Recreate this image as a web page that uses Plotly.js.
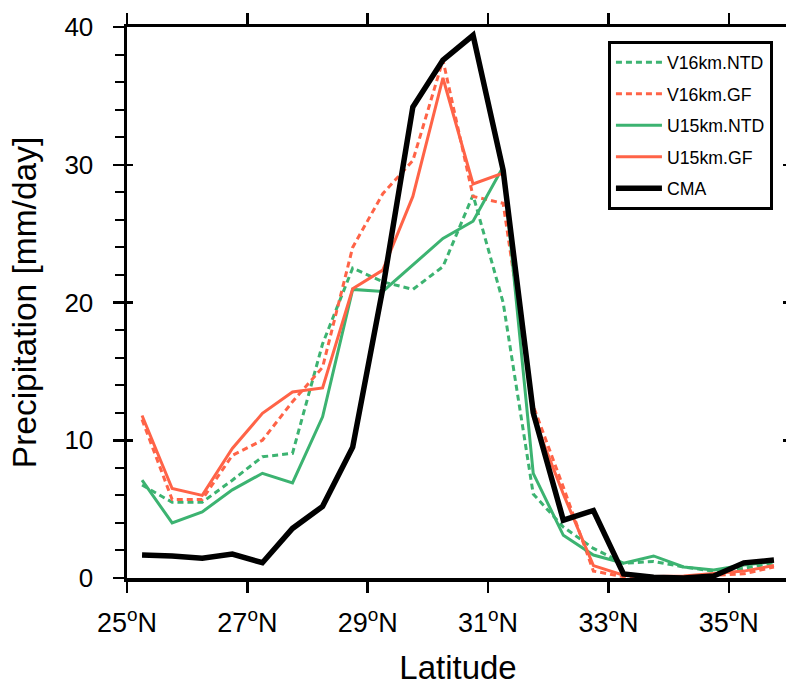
<!DOCTYPE html>
<html>
<head>
<meta charset="utf-8">
<script src="https://cdn.plot.ly/plotly-3.0.1.min.js"></script>
<style>
html, body { margin:0; padding:0; overflow:hidden; background:#fff; }
#chart { width:800px; height:686px; }
</style>
</head>
<body>
<div id="chart"></div>
<script>
// Latitude centres (degrees N)
const lat = [25.25, 25.75, 26.25, 26.75, 27.25, 27.75, 28.25, 28.75, 29.25, 29.75, 30.25,
             30.75, 31.25, 31.75, 32.25, 32.75, 33.25, 33.75, 34.25, 34.75, 35.25, 35.75];

// Precipitation series (mm/day)
const v16NTD = [6.75, 5.5, 5.5, 7.1, 8.8, 9.05, 17.0, 22.5, 21.5, 20.95, 22.6,
                27.8, 20.0, 6.1, 3.7, 2.15, 1.07, 1.2, 0.8, 0.5, 0.7, 1.1];
const v16GF  = [11.5, 5.7, 5.7, 8.9, 10.0, 12.8, 15.3, 24.0, 27.9, 30.3, 37.6,
                27.7, 27.2, 12.5, 6.6, 0.5, 0.1, 0.05, 0.1, 0.2, 0.3, 0.8];
const u15NTD = [7.1, 4.0, 4.8, 6.4, 7.6, 6.9, 11.7, 20.95, 20.8, 22.7, 24.65,
                25.9, 29.85, 7.6, 3.1, 1.67, 1.07, 1.6, 0.8, 0.58, 0.94, 1.2];
const u15GF  = [11.8, 6.5, 6.0, 9.4, 11.95, 13.5, 13.8, 21.0, 22.35, 27.7, 36.3,
                28.6, 29.4, 11.7, 6.1, 0.9, 0.2, 0.1, 0.15, 0.3, 0.5, 0.9];
const cma    = [1.67, 1.6, 1.43, 1.74, 1.11, 3.6, 5.2, 9.5, 21.0, 34.2, 37.6,
                39.4, 29.6, 12.0, 4.2, 4.9, 0.3, 0.05, 0.0, 0.15, 1.1, 1.3];

const seriesNames = ["V16km.NTD", "V16km.GF", "U15km.NTD", "U15km.GF", "CMA"];

// Axis ticks
const xTickVals = [25, 27, 29, 31, 33, 35];
const xTickText = ["25<sup>o</sup>N", "27<sup>o</sup>N", "29<sup>o</sup>N", "31<sup>o</sup>N", "33<sup>o</sup>N", "35<sup>o</sup>N"];

const GREEN = "#3CB371", RED = "#FF6347";
const FONT = "Liberation Sans, Arial, Helvetica, sans-serif";

const traces = [
  {x: lat, y: v16NTD, name: seriesNames[0], mode: "lines", legendgroup: "a",
   line: {color: GREEN, width: 3, dash: "6px,4px"}},
  {x: lat, y: v16GF, name: seriesNames[1], mode: "lines", legendgroup: "b",
   line: {color: RED, width: 3, dash: "6px,4px"}},
  {x: lat, y: u15NTD, name: seriesNames[2], mode: "lines", legendgroup: "c",
   line: {color: GREEN, width: 3}},
  {x: lat, y: u15GF, name: seriesNames[3], mode: "lines", legendgroup: "d",
   line: {color: RED, width: 3}},
  {x: lat, y: cma, name: seriesNames[4], mode: "lines", legendgroup: "e",
   line: {color: "#000", width: 5.5}},
  {x: [], y: [], yaxis: "y2", showlegend: false, hoverinfo: "skip", mode: "lines"}
];

const layout = {
  width: 800, height: 686,
  margin: {l: 127, r: 11, t: 27, b: 108},
  paper_bgcolor: "#fff", plot_bgcolor: "#fff",
  font: {family: FONT, color: "#000"},
  showlegend: true,
  legend: {
    x: 0.7265, y: 0.974, xanchor: "left", yanchor: "top",
    bgcolor: "#fff", bordercolor: "#000", borderwidth: 3,
    font: {family: FONT, size: 17.7, color: "#000"},
    traceorder: "grouped", tracegroupgap: 5.5,
    itemwidth: 46
  },
  xaxis: {
    range: [25, 36], tickvals: xTickVals, ticktext: xTickText,
    ticks: "outside", ticklen: 11, tickwidth: 2.5, tickcolor: "#000",
    showline: true, linewidth: 3.5, linecolor: "#000", mirror: "ticks",
    showgrid: false, zeroline: false,
    tickfont: {family: FONT, size: 27, color: "#000"},
    ticklabelstandoff: 7,
    title: {text: "Latitude", font: {family: FONT, size: 33, color: "#000"}, standoff: 28}
  },
  yaxis: {
    range: [0, 40], tickmode: "linear", tick0: 0, dtick: 10,
    ticks: "outside", ticklen: 11, tickwidth: 2.5, tickcolor: "#000",
    minor: {ticks: "outside", ticklen: 9, tickwidth: 2, tickcolor: "#000", dtick: 2, showgrid: false},
    showline: true, linewidth: 3.5, linecolor: "#000", mirror: true,
    showgrid: false, zeroline: false,
    tickfont: {family: FONT, size: 26, color: "#000"},
    ticklabelstandoff: 14,
    title: {text: "Precipitation [mm/day]", font: {family: FONT, size: 33.5, color: "#000"}, standoff: 18}
  },
  yaxis2: {
    range: [0, 40], overlaying: "y", side: "left", tickmode: "linear", tick0: 0, dtick: 10,
    ticks: "inside", ticklen: 6, tickwidth: 2.5, tickcolor: "#000",
    mirror: "ticks", showline: false, showgrid: false, zeroline: false,
    showticklabels: false
  }
};

Plotly.newPlot("chart", traces, layout, {displayModeBar: false, staticPlot: true});
</script>
</body>
</html>
